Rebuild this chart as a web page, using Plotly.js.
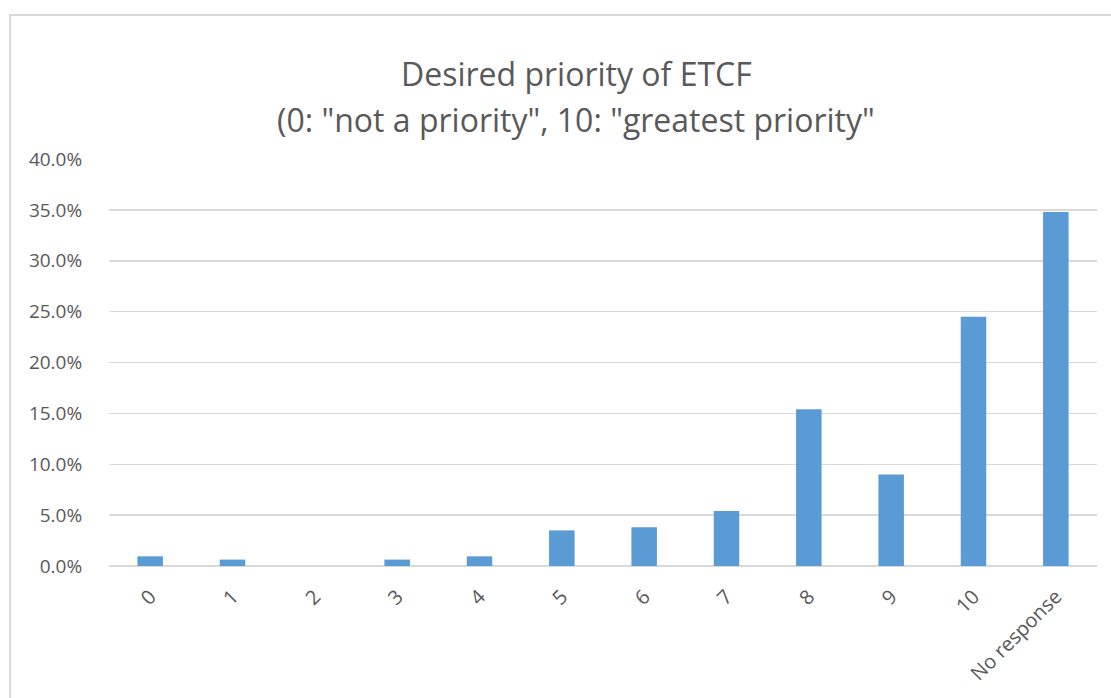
<!DOCTYPE html>
<html>
<head>
<meta charset="utf-8">
<script src="https://cdn.plot.ly/plotly-3.0.1.min.js"></script>
<style>
  html, body { margin: 0; padding: 0; background: #ffffff; }
  #frame { position: absolute; left: 9px; top: 14px; width: 1200px; height: 800px;
           border-left: 2px solid #d9d9d9; border-top: 2px solid #d9d9d9; box-sizing: border-box; }
  #chart { position: absolute; left: 0; top: 0; width: 1111px; height: 698px; }
</style>
</head>
<body>
<div id="frame"></div>
<div id="chart"></div>
<script>
const categories = ["0", "1", "2", "3", "4", "5", "6", "7", "8", "9", "10", "No response"];
const shares = [0.0095, 0.0063, 0.0, 0.0063, 0.0095, 0.035, 0.038, 0.054, 0.154, 0.090, 0.245, 0.348];
const yTicks = [0, 0.05, 0.10, 0.15, 0.20, 0.25, 0.30, 0.35, 0.40];
const yTickLabels = ["0.0%", "5.0%", "10.0%", "15.0%", "20.0%", "25.0%", "30.0%", "35.0%", "40.0%"];
const titleLine1 = 'Desired priority of ETCF';
const titleLine2 = '(0: "not a priority", 10: "greatest priority"';

const font = "'Open Sans', 'Liberation Sans', sans-serif";
const grey = "#595959";

Plotly.newPlot("chart", [{
  type: "bar",
  x: categories,
  y: shares,
  marker: { color: "#5B9BD5" },
  hoverinfo: "x+y"
}], {
  width: 1111,
  height: 698,
  paper_bgcolor: "rgba(0,0,0,0)",
  plot_bgcolor: "rgba(0,0,0,0)",
  margin: { l: 109, r: 14, t: 159, b: 132 },
  bargap: 0.69,
  annotations: [
    { text: titleLine1, xref: "paper", yref: "paper", x: 0.4727, y: 1.209,
      xanchor: "center", yanchor: "middle", showarrow: false,
      font: { family: font, size: 32, color: grey } },
    { text: titleLine2, xref: "paper", yref: "paper", x: 0.4727, y: 1.098,
      xanchor: "center", yanchor: "middle", showarrow: false,
      font: { family: font, size: 32, color: grey } }
  ],
  xaxis: {
    type: "category",
    tickangle: -45,
    tickfont: { family: font, size: 20, color: grey },
    showgrid: false,
    showline: false,
    ticks: "",
    ticklabelstandoff: 14,
    fixedrange: true
  },
  yaxis: {
    range: [0, 0.40],
    tickvals: yTicks,
    ticktext: yTickLabels,
    tickfont: { family: font, size: 19, color: grey },
    showgrid: true,
    gridcolor: "#d9d9d9",
    gridwidth: 1.5,
    zeroline: true,
    zerolinecolor: "#d9d9d9",
    zerolinewidth: 1.5,
    showline: false,
    ticks: "outside",
    ticklen: 22,
    tickcolor: "#ffffff",
    fixedrange: true
  },
  showlegend: false
}, { displayModeBar: false, staticPlot: true });
</script>
</body>
</html>
